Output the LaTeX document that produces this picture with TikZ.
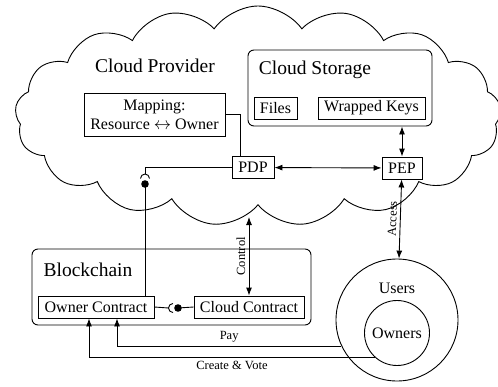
\documentclass[tikz,border=0pt]{standalone}
\usepackage{fontspec}
\setmainfont{Liberation Serif}
\usetikzlibrary{arrows.meta, shapes.symbols, positioning}
\tikzset{
  block/.style={draw, rectangle, inner sep=2pt, minimum height=22pt, font=\fontsize{16}{19}\selectfont},
  group/.style={draw, rectangle, rounded corners=6pt},
  heading/.style={font=\fontsize{19.5}{23}\selectfont},
  plain/.style={font=\fontsize{16}{19}\selectfont},
  small/.style={font=\fontsize{12.5}{15}\selectfont},
}

\begin{document}
\begin{tikzpicture}[x=1pt, y=-1pt, >={Latex[length=8pt,width=6pt]}, line width=0.9pt]
\useasboundingbox (0,0) rectangle (498,386);
\node[cloud, draw, cloud puffs=17, cloud puff arc=110, cloud ignores aspect, minimum width=486pt, minimum height=220pt] (provider) at (258,116) {};
\node[heading] (providertitle) at (155,66) {Cloud Provider};
\node[group, minimum width=184pt, minimum height=76pt] (storage) at (340,88) {};
\node[heading] (storagetitle) at (315,70) {Cloud Storage};
\node[block, minimum width=43pt] (files) at (275.5,108) {Files};
\node[block, minimum width=107pt] (keys) at (371.5,108) {Wrapped Keys};
\node[block, minimum width=141pt, minimum height=43pt, align=center] (mapping) at (154.5,114.5) {Mapping:\\Resource $\leftrightarrow$ Owner};
\node[block, minimum width=42pt] (pdp) at (253,167.5) {PDP};
\node[block, minimum width=40pt] (pep) at (402,168) {PEP};
\node[group, minimum width=279pt, minimum height=76pt] (chain) at (171.5,287) {};
\node[heading] (chaintitle) at (88,270) {Blockchain};
\node[block, minimum width=116pt] (oc) at (96,307) {Owner Contract};
\node[block, minimum width=110pt] (cc) at (249,307) {Cloud Contract};
\node[draw, circle, minimum size=122pt] (users) at (397,320) {};
\node[plain] (userstitle) at (397,288) {Users};
\node[draw, circle, minimum size=65pt, inner sep=0pt, plain] (owners) at (397,333) {Owners};
\coordinate (ctltop) at (249,217);
\coordinate (sockettop) at (145,178.5);
\coordinate (balltop) at (145,184);
\coordinate (socketside) at (173,308);
\coordinate (ballside) at (178,308);

\draw (mapping.east) -| ([xshift=-13pt]pdp.north);
\draw [<->] (pdp) edge (pep);
\draw [<->] (pep) edge (pep |- storage.south);
\draw [<->] (users) edge node [sloped, above, small] {Access} (pep);
\draw [<->] (cc) edge node [sloped, above, small] {Control} (ctltop);
\draw (pdp.west) -| ([yshift=4.5pt]sockettop);
\draw ([xshift=4.5pt]sockettop) arc[start angle=0, end angle=180, radius=4.5pt];
\fill (balltop) circle[radius=3.8pt];
\draw (balltop) -- (balltop |- oc.north);
\draw (oc.east) -- ([xshift=-4.5pt]socketside);
\draw ([yshift=4.5pt]socketside) arc[start angle=90, end angle=270, radius=4.5pt];
\fill (ballside) circle[radius=3.8pt];
\draw (ballside) -- (cc.west);
\draw [->] (users.205) -| node [pos=0.25, above, small] {Pay} ([xshift=21pt]oc.south);
\draw [->] (owners.228) -| node [pos=0.25, below, small] {Create \& Vote} ([xshift=-7pt]oc.south);
\end{tikzpicture}
\end{document}
